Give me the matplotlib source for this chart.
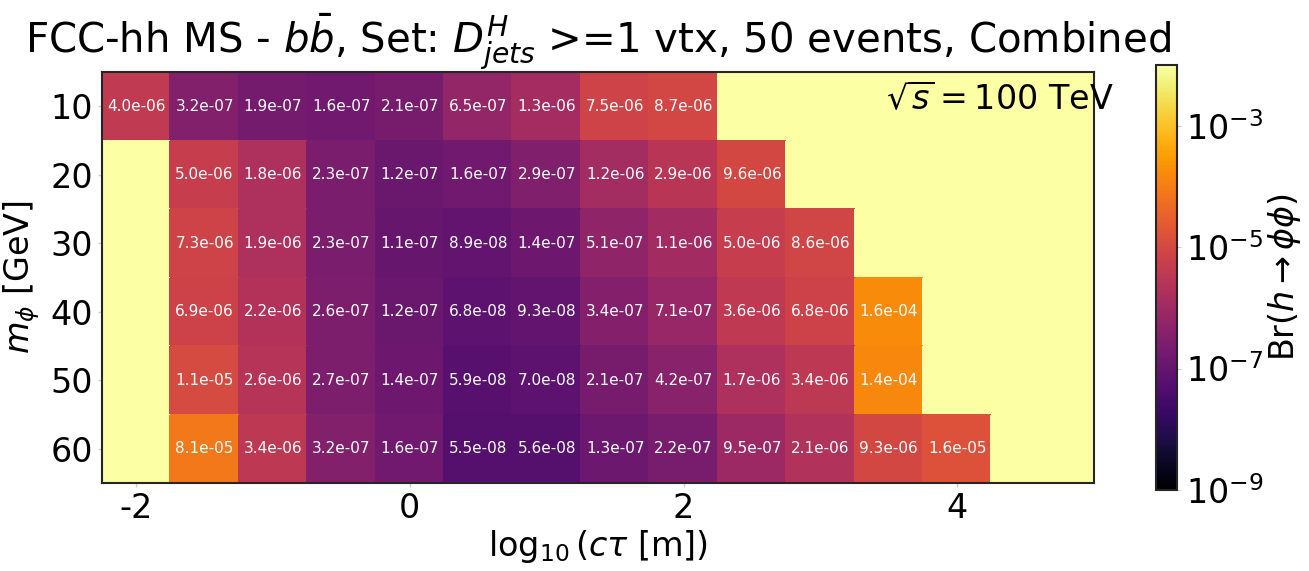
import numpy as np
import matplotlib
matplotlib.use("Agg")
import matplotlib.pyplot as plt
from matplotlib.colors import LogNorm

# log10(c tau [m]) cell centres and m_phi rows
log_ctau = np.arange(-2.0, 5.01, 0.5)
m_phi = [10, 20, 30, 40, 50, 60]

# Br limits per mass row, starting at the given log10(ctau)
row_start = [-2.0, -1.5, -1.5, -1.5, -1.5, -1.5]
br_10 = [4.0e-06, 3.2e-07, 1.9e-07, 1.6e-07, 2.1e-07, 6.5e-07, 1.3e-06, 7.5e-06, 8.7e-06]
br_20 = [5.0e-06, 1.8e-06, 2.3e-07, 1.2e-07, 1.6e-07, 2.9e-07, 1.2e-06, 2.9e-06, 9.6e-06]
br_30 = [7.3e-06, 1.9e-06, 2.3e-07, 1.1e-07, 8.9e-08, 1.4e-07, 5.1e-07, 1.1e-06, 5.0e-06, 8.6e-06]
br_40 = [6.9e-06, 2.2e-06, 2.6e-07, 1.2e-07, 6.8e-08, 9.3e-08, 3.4e-07, 7.1e-07, 3.6e-06, 6.8e-06, 1.6e-04]
br_50 = [1.1e-05, 2.6e-06, 2.7e-07, 1.4e-07, 5.9e-08, 7.0e-08, 2.1e-07, 4.2e-07, 1.7e-06, 3.4e-06, 1.4e-04]
br_60 = [8.1e-05, 3.4e-06, 3.2e-07, 1.6e-07, 5.5e-08, 5.6e-08, 1.3e-07, 2.2e-07, 9.5e-07, 2.1e-06, 9.3e-06, 1.6e-05]
rows = [br_10, br_20, br_30, br_40, br_50, br_60]

FILL = 1.0  # no limit -> shown as top of the colour scale

grid = np.full((len(m_phi), len(log_ctau)), FILL)
for i, (start, vals) in enumerate(zip(row_start, rows)):
    j0 = int(round((start - log_ctau[0]) / 0.5))
    grid[i, j0:j0 + len(vals)] = vals

x_edges = np.append(log_ctau - 0.25, log_ctau[-1] + 0.25)
y_edges = np.append(np.array(m_phi) - 5, m_phi[-1] + 5)

fig = plt.figure(figsize=(13.09, 5.71), dpi=100)
ax = fig.add_axes([102 / 1309, 1 - 483 / 571, 992 / 1309, 411 / 571])
cax = fig.add_axes([1156 / 1309, 1 - 490 / 571, 21 / 1309, 425 / 571])

norm = LogNorm(vmin=1e-9, vmax=1e-2)
mesh = ax.pcolormesh(x_edges, y_edges, grid, cmap="inferno", norm=norm,
                     edgecolor="face", linewidth=0.3)

for i, (start, vals) in enumerate(zip(row_start, rows)):
    for k, v in enumerate(vals):
        ax.text(start + 0.5 * k, m_phi[i], f"{v:.1e}", ha="center", va="center",
                color="white", fontsize=11)

ax.set_xlim(-2.25, 5.0)
ax.set_ylim(65, 5)
ax.set_xticks([-2, 0, 2, 4])
ax.set_xticklabels(["-2", "0", "2", "4"])
ax.set_yticks(m_phi)
ax.set_yticklabels([str(m) for m in m_phi])
ax.tick_params(labelsize=24, color="#cccccc", length=3, width=1)
for s in ax.spines.values():
    s.set_color("#262626")
    s.set_linewidth(1.5)

ax.set_xlabel(r"$\log_{10}(c\tau$ [m])", fontsize=24, labelpad=2)
ax.set_ylabel(r"$m_{\phi}$ [GeV]", fontsize=24, labelpad=6)
ax.set_title(r"FCC-hh MS - $b\bar{b}$, Set: $D^{H}_{jets}$ >=1 vtx, 50 events, Combined",
             fontsize=29, pad=4)
ax.text(0.79, 0.975, r"$\sqrt{s} = 100$ TeV", transform=ax.transAxes,
        fontsize=24, ha="left", va="top", clip_on=False)

cb = fig.colorbar(mesh, cax=cax)
cb.set_label(r"Br($h\to\phi\phi$)", fontsize=24, labelpad=2)
cb.set_ticks([1e-9, 1e-7, 1e-5, 1e-3])
cb.ax.tick_params(labelsize=24, color="#cccccc", length=3, which="major")
cb.ax.tick_params(which="minor", length=0)
cb.outline.set_edgecolor("#262626")
cb.outline.set_linewidth(1.5)

fig.savefig("out.png", dpi=100)
